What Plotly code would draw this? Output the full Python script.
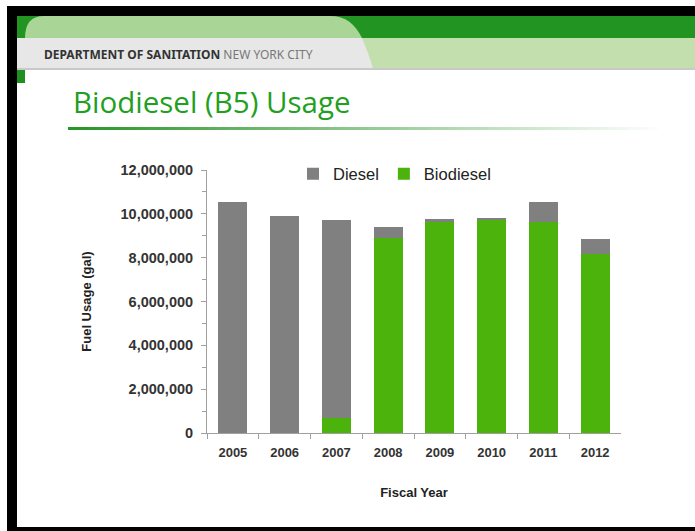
import plotly.graph_objects as go

# ---- data ----
years = ["2005", "2006", "2007", "2008", "2009", "2010", "2011", "2012"]
biodiesel = [0, 0, 670000, 8910000, 9660000, 9720000, 9610000, 8180000]
diesel = [10520000, 9880000, 9050000, 500000, 90000, 90000, 940000, 660000]
y_ticks = [0, 2000000, 4000000, 6000000, 8000000, 10000000, 12000000]

W, H = 695, 531
def px(x):
    return x / W
def py(y):
    return 1 - y / H

GRAY = "#808080"
GREEN = "#4bb30b"

fig = go.Figure()
fig.add_trace(go.Bar(x=years, y=biodiesel, name="Biodiesel", marker=dict(color=GREEN, line=dict(width=0))))
fig.add_trace(go.Bar(x=years, y=diesel, name="Diesel", marker=dict(color=GRAY, line=dict(width=0))))

shapes = []
def rect(x0, y0, x1, y1, color, layer="below"):
    shapes.append(dict(type="rect", xref="paper", yref="paper", x0=px(x0), x1=px(x1),
                       y0=py(y1), y1=py(y0), fillcolor=color, line=dict(width=0), layer=layer))

# black frame
rect(7, 6, W, 16, "#000000")
rect(7, 6, 17, H, "#000000")
rect(7, 527, W, H, "#000000")
# header bands
rect(17, 16, W, 38, "#229422")
rect(17, 38, W, 68, "#c3dfad")
rect(17, 68, W, 70, "#c9c9c9")
# dark green small square
rect(17, 70, 25, 83, "#1f8f1f")

def path(points_str, color):
    shapes.append(dict(type="path", xref="paper", yref="paper", path=points_str,
                       fillcolor=color, line=dict(width=0), layer="below"))

def P(x, y):
    return f"{px(x):.5f},{py(y):.5f}"

# light green tab
path(f"M {P(25,38)} Q {P(25,16)} {P(44,16)} L {P(330,16)} C {P(346,16)} {P(355,24)} {P(362,38)} Z", "#a9d597")
# light gray lower tab
path(f"M {P(17,38)} L {P(362,38)} Q {P(368,52)} {P(373,68)} L {P(17,68)} Z", "#e7e7e7")

# gradient underline
x_start, x_end, n = 68, 668, 60
for i in range(n):
    t = i / (n - 1)
    r = int(40 + (255 - 40) * t)
    g = int(150 + (255 - 150) * t)
    b = int(40 + (255 - 40) * t)
    xa = x_start + (x_end - x_start) * i / n
    xb = x_start + (x_end - x_start) * (i + 1) / n
    rect(xa, 127, xb + 0.5, 130, f"rgb({r},{g},{b})")

annotations = [
    dict(xref="paper", yref="paper", x=px(42), y=py(55), xanchor="left", yanchor="middle",
         text="<b>DEPARTMENT OF SANITATION</b> <span style='color:#777'>NEW YORK CITY</span>",
         showarrow=False, font=dict(family="Noto Sans", size=12, color="#333333")),
    dict(xref="paper", yref="paper", x=px(71), y=py(101), xanchor="left", yanchor="middle",
         text="Biodiesel (B5) Usage", showarrow=False,
         font=dict(family="Open Sans", size=29.5, color="#1fa01f")),
]

fig.update_layout(
    width=W, height=H, autosize=False,
    margin=dict(l=0, r=0, t=0, b=0, autoexpand=False),
    paper_bgcolor="white", plot_bgcolor="white",
    barmode="stack", bargap=0.44,
    shapes=shapes, annotations=annotations,
    font=dict(family="Liberation Sans", color="#333333"),
    showlegend=True,
    legend=dict(orientation="h", traceorder="reversed", x=px(293), y=py(174),
                xanchor="left", yanchor="middle", bgcolor="rgba(0,0,0,0)",
                font=dict(family="Liberation Sans", size=16.5, color="#222222"),
                itemwidth=30),
    xaxis=dict(domain=[px(207), px(621)], type="category", showgrid=False, automargin=False,
               showline=True, linecolor="#a0a0a0", linewidth=1,
               ticks="outside", ticklen=5, tickcolor="#a0a0a0", tickson="boundaries",
               ticklabelstandoff=7,
               tickfont=dict(family="Liberation Sans", size=13, color="#333333", weight="bold"),
               title=dict(text="<b>Fiscal Year</b>", standoff=29,
                          font=dict(family="Liberation Sans", size=13, color="#222222"))),
    yaxis=dict(domain=[py(433), py(170)], range=[0, 12000000], tickvals=y_ticks,
               tickformat=",d", showgrid=False, zeroline=False, automargin=False,
               showline=True, linecolor="#a0a0a0", linewidth=1,
               ticks="outside", ticklen=5, tickcolor="#a0a0a0",
               ticklabelstandoff=5,
               minor=dict(dtick=1000000, ticks="outside", ticklen=4, tickcolor="#a0a0a0", showgrid=False),
               tickfont=dict(family="Liberation Sans", size=14.5, color="#333333", weight="bold"),
               title=dict(text="<b>Fuel Usage (gal)</b>", standoff=25,
                          font=dict(family="Liberation Sans", size=13, color="#222222"))),
)

fig.write_html(
    "out.html",
    config={"displayModeBar": False},
    post_script="document.body.style.margin='0';",
)
